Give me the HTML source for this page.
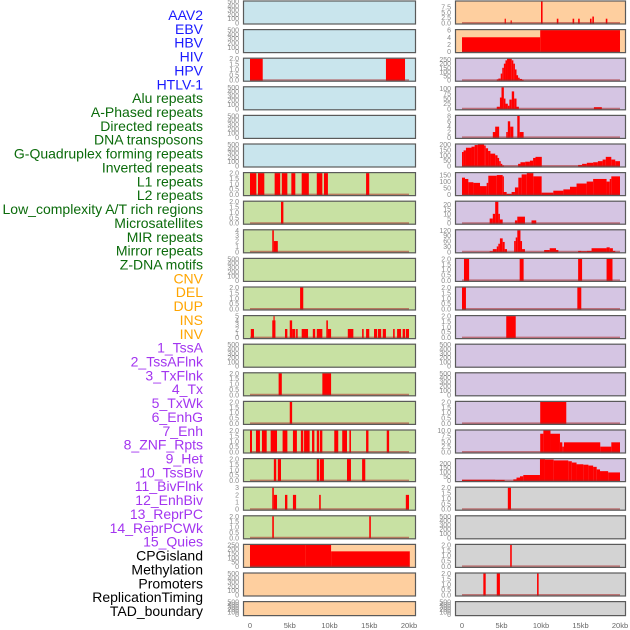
<!DOCTYPE html>
<html><head><meta charset="utf-8"><style>
html,body{margin:0;padding:0;background:#fff;}
svg{display:block;font-family:"Liberation Sans",sans-serif;}
</style></head><body>
<svg id="chart" width="630" height="630" viewBox="0 0 630 630"></svg>
<script>
const trackNames = ["AAV2","EBV","HBV","HIV","HPV","HTLV-1","Alu repeats","A-Phased repeats","Directed repeats","DNA transposons","G-Quadruplex forming repeats","Inverted repeats","L1 repeats","L2 repeats","Low_complexity A/T rich regions","Microsatellites","MIR repeats","Mirror repeats","Z-DNA motifs","CNV","DEL","DUP","INS","INV","1_TssA","2_TssAFlnk","3_TxFlnk","4_Tx","5_TxWk","6_EnhG","7_Enh","8_ZNF_Rpts","9_Het","10_TssBiv","11_BivFlnk","12_EnhBiv","13_ReprPC","14_ReprPCWk","15_Quies","CPGisland","Methylation","Promoters","ReplicationTiming","TAD_boundary"];
const trackGroups = ["virus","virus","virus","virus","virus","virus","repeat","repeat","repeat","repeat","repeat","repeat","repeat","repeat","repeat","repeat","repeat","repeat","repeat","sv","sv","sv","sv","sv","chrom","chrom","chrom","chrom","chrom","chrom","chrom","chrom","chrom","chrom","chrom","chrom","chrom","chrom","chrom","other","other","other","other","other"];

const ticksEmpty = ["0","100","200","300","400","500"];
const ticks2 = ["0.0","0.5","1.0","1.5","2.0"];

// bar data: [startKb, endKb, value]
const barsAAV2 = [];
const barsEBV = [];
const barsHBV = [[0,1.6,2],[17.1,19.5,2]];
const barsHIV = [];
const barsHPV = [];
const barsHTLV = [];
const barsAlu = [[0,0.8,2],[1.0,1.8,2],[3.1,3.8,2],[4.0,4.7,2],[5.2,5.7,2],[6.5,7.4,2],[8.4,9.1,2],[9.3,9.8,2],[14.6,15.0,2]];
const barsAPhased = [[3.9,4.2,2]];
const barsDirected = [[2.8,3.0,4],[3.0,3.5,2]];
const barsDNATrans = [];
const barsGQuad = [[6.3,6.7,2]];
const barsInverted = [[0.1,0.5,2],[2.8,3.2,4],[2.95,3.05,5],[4.4,4.7,2],[5.0,5.3,4],[5.3,5.7,2],[5.8,6.0,2],[6.5,7.3,2],[7.9,8.2,2],[8.4,9.1,2],[9.6,9.8,4],[9.8,10.2,2],[12.3,13.0,2],[14.1,14.3,2],[14.6,15.0,2],[15.6,16.0,2],[16.1,16.5,2],[16.7,17.1,2],[18.0,18.2,2],[18.5,19.0,2],[19.2,19.5,2],[19.6,20.0,2]];
const barsL1 = [];
const barsL2 = [[3.6,4.0,2],[9.1,10.2,2]];
const barsLowComp = [[5.0,5.3,2]];
const barsMicrosat = [[0,0.25,2],[0.75,1.25,2],[1.5,2.1,2],[2.6,3.4,2],[4.1,4.7,2],[5.4,5.9,2],[6.4,6.7,2],[6.8,7.5,2],[7.8,8.1,2],[8.4,8.7,2],[8.8,9.1,2],[10.6,11.1,2],[11.6,12.2,2],[12.5,12.7,2],[14.6,14.9,2],[17.2,17.5,2]];
const barsMIR = [[3.0,3.3,2],[3.5,3.9,2],[8.4,8.7,2],[8.8,9.3,2],[12.2,12.7,2],[14.1,14.5,2]];
const barsMirror = [[2.8,3.0,3],[3.0,3.4,2],[4.4,4.7,2],[5.4,5.8,2],[8.7,8.9,2],[19.6,20.0,2]];
const barsZDNA = [[2.8,3.0,2],[15.0,15.2,2]];
const barsCNV = [[0,7.0,250],[7.0,10.2,250],[10.2,20.1,175]];
const barsDEL = [];
const barsDUP = [];
const barsINS = [[5.4,5.5,2],[6.15,6.25,1.2],[10.0,10.2,10],[12.0,12.2,2],[14.0,14.2,2],[14.7,14.9,2],[16.2,16.4,2],[16.5,16.7,3],[18.2,18.4,2]];
const barsINV = [[0,9.9,4],[9.9,20.0,6]];
const barsTssA = [[4.4,4.6,10],[4.6,4.9,20],[4.9,5.1,80],[5.1,5.3,150],[5.3,5.5,200],[5.5,5.7,240],[5.7,6.3,260],[6.3,6.5,240],[6.5,6.7,200],[6.7,6.9,130],[6.9,7.1,60],[7.1,7.3,30],[7.3,7.6,15],[7.6,7.8,5]];
const barsTssAFlnk = [[4.4,4.8,10],[4.8,5.0,55],[5.0,5.3,105],[5.3,5.5,50],[5.5,5.8,25],[5.8,6.0,15],[6.0,6.3,45],[6.3,6.6,85],[6.6,6.9,50],[6.9,7.2,10],[16.7,17.7,8]];
const barsTxFlnk = [[3.9,4.3,2],[4.2,4.7,4],[5.6,5.8,2],[5.8,6.1,6],[6.1,6.5,4],[7.0,7.3,8],[7.3,7.8,2]];
const barsTx = [[0,0.2,130],[0.2,0.5,145],[0.5,1.2,170],[1.2,1.6,180],[1.6,2.0,195],[2.0,2.8,200],[2.8,3.0,190],[3.0,3.3,165],[3.3,3.6,140],[3.6,4.2,115],[4.2,4.5,100],[4.5,4.7,75],[4.7,4.9,45],[4.9,5.1,20],[5.1,5.3,5],[7.1,7.4,20],[7.4,8.0,35],[8.0,8.6,40],[8.6,9.0,50],[9.0,9.3,75],[9.3,10.1,85],[14.7,15.2,10],[15.2,15.8,20],[15.8,16.6,30],[16.6,17.2,35],[17.2,17.8,45],[17.8,18.2,60],[18.2,18.9,85],[18.9,19.4,60],[19.4,20.0,45]];
const barsTxWk = [[0,0.38,130],[0.38,0.8,120],[0.8,1.44,95],[1.44,2.28,90],[2.28,3.12,65],[3.12,3.33,90],[3.33,4.4,145],[4.4,5.15,150],[5.15,5.23,140],[5.23,5.65,20],[5.65,6.28,5],[6.28,6.7,20],[6.7,7.13,55],[7.13,7.55,130],[7.55,8.2,155],[8.2,9.03,165],[9.03,10.08,140],[10.08,11.56,15],[11.56,12.83,30],[12.83,13.67,40],[13.67,14.5,60],[14.5,15.78,85],[15.78,16.6,100],[16.6,18.3,120],[18.3,18.7,100],[18.7,18.9,120],[18.9,20.0,140]];
const barsEnhG = [[3.5,3.9,5],[3.9,4.2,10],[4.2,4.6,23],[4.6,4.8,10],[4.8,5.15,4],[6.7,7.0,3],[7.0,7.97,7],[8.8,9.4,3]];
const barsEnh = [[3.5,3.9,3],[3.9,4.4,15],[4.4,4.6,30],[4.6,4.8,45],[4.8,5.15,75],[5.15,5.4,55],[5.4,5.7,15],[6.6,6.8,60],[6.8,7.0,80],[7.0,7.4,120],[7.4,7.6,60],[7.6,7.97,15],[10.4,11.1,10],[11.1,11.9,20],[11.9,12.2,10],[14.7,15.1,5],[15.1,15.8,3],[15.8,16.4,5],[16.4,18.3,20],[18.3,18.7,25],[18.7,19.1,20],[19.1,19.4,5]];
const barsZNF = [[0.25,0.9,2],[7.3,7.8,2],[14.7,15.2,2],[18.3,19.05,2]];
const barsHet = [[0,0.5,2],[14.6,15.1,2]];
const barsTssBiv = [[5.6,6.8,2]];
const barsBivFlnk = [];
const barsEnhBiv = [];
const barsReprPC = [[9.9,13.2,2]];
const barsReprPCWk = [[9.9,10.3,8.5],[10.3,11.2,10],[11.2,12.4,8.5],[12.4,12.7,4.5],[12.7,12.9,2.5],[12.9,17.5,4.5],[17.5,18.9,2.5],[18.9,20.0,4.5]];
const barsQuies = [[0,4.2,10],[4.2,5.4,8],[6.5,6.9,15],[6.9,7.34,35],[7.34,7.76,50],[7.76,9.87,65],[9.87,10.5,250],[10.5,11.6,245],[11.6,13.46,235],[13.46,13.9,225],[13.9,14.5,210],[14.5,15.36,190],[15.36,16.0,185],[16.0,16.6,175],[16.6,17.05,160],[17.05,17.47,130],[17.47,18.5,110],[18.5,20.0,95]];
const barsCPG = [[5.8,6.2,2]];
const barsMeth = [];
const barsProm = [[6.1,6.3,2]];
const barsRepl = [[2.7,3.0,2],[4.4,4.8,2],[9.5,9.7,2]];
const barsTAD = [];

const trackBars = [barsAAV2,barsEBV,barsHBV,barsHIV,barsHPV,barsHTLV,barsAlu,barsAPhased,barsDirected,barsDNATrans,barsGQuad,barsInverted,barsL1,barsL2,barsLowComp,barsMicrosat,barsMIR,barsMirror,barsZDNA,barsCNV,barsDEL,barsDUP,barsINS,barsINV,barsTssA,barsTssAFlnk,barsTxFlnk,barsTx,barsTxWk,barsEnhG,barsEnh,barsZNF,barsHet,barsTssBiv,barsBivFlnk,barsEnhBiv,barsReprPC,barsReprPCWk,barsQuies,barsCPG,barsMeth,barsProm,barsRepl,barsTAD];

const trackTicks = [ticksEmpty,ticksEmpty,ticks2,ticksEmpty,ticksEmpty,ticksEmpty,ticks2,ticks2,["0","1","2","3","4"],ticksEmpty,ticks2,["0","1","2","3","4","5"],ticksEmpty,ticks2,ticks2,ticks2,ticks2,["0","1","2","3"],ticks2,["0","50","100","150","200","250"],ticksEmpty,ticksEmpty,
["0.0","2.5","5.0","7.5"],["0","2","4","6"],["0","50","100","150","200","250"],["0","25","50","75","100"],["0","2","4","6","8"],["0","50","100","150","200"],["0","50","100","150"],["0","5","10","15","20"],["0","30","60","90","120"],ticks2,ticks2,ticks2,ticksEmpty,ticksEmpty,ticks2,["0.0","2.5","5.0","7.5","10.0"],["0","50","100","150","200"],ticks2,ticksEmpty,ticks2,ticks2,ticksEmpty];

const xTickValues = [0,5,10,15,20];
const xTickLabels = ["0","5kb","10kb","15kb","20kb"];

const labelColors = {virus:"#1a1aff",repeat:"#0b6b0b",sv:"#ffa500",chrom:"#a335f0",other:"#000000"};
const panelFills = ["#c9e5ed","#c8e1a3","#fecf9f","#d5c5e3","#d3d3d3"];
const groupFill = {virus:0,repeat:1,sv:2,chrom:3,other:4};

const NS = "http://www.w3.org/2000/svg";
const svg = document.getElementById("chart");
function mk(tag, attrs, parent){
  const e = document.createElementNS(NS, tag);
  for (const k in attrs) e.setAttribute(k, attrs[k]);
  (parent||svg).appendChild(e);
  return e;
}

// labels
trackNames.forEach((n,i)=>{
  const t = mk("text",{x:203,y:(15+i*13.86+5).toFixed(1),"text-anchor":"end","font-size":"14",fill:labelColors[trackGroups[i]]});
  
  
  t.textContent = n;
});

const cols = [{px:243,pw:173,x0:250,sc:7.95},{px:455,pw:171,x0:462,sc:7.9}];
function xScale(col,kb){ return col.x0 + kb*col.sc; }

trackNames.forEach((n,i)=>{
  const col = cols[i<22?0:1];
  const row = i%22;
  const top = 0.5 + row*28.6;
  const h = row===21 ? 15 : 24;
  const bars = trackBars[i];
  const ticks = trackTicks[i];
  const tickMax = parseFloat(ticks[ticks.length-1]);
  let ymax = tickMax;
  bars.forEach(b=>{ if(b[2]>ymax) ymax=b[2]; });
  const yScale = v => top + h - 1.5 - v/ymax*(h-2.5);
  const g = mk("g",{});
  
  
  const bg = mk("rect",{x:col.px,y:top,width:col.pw,height:h,fill:panelFills[groupFill[trackGroups[i]]]},g);
  
  
  bars.forEach(b=>{
    const x1 = xScale(col,b[0]), x2 = xScale(col,b[1]);
    const y = yScale(b[2]);
    const r = mk("rect",{x:x1.toFixed(2),y:y.toFixed(2),width:Math.max(1.2,x2-x1).toFixed(2),height:(yScale(0)-y+0.5).toFixed(2),fill:"#ff0000"},g);
    
    
  });
  if (bars.length){
    const bl = mk("line",{x1:xScale(col,0),x2:xScale(col,20),y1:yScale(0),y2:yScale(0),stroke:"rgba(170,40,40,0.55)","stroke-width":2},g);
    
    
  }
  const br = mk("rect",{x:col.px+0.5,y:top+0.5,width:col.pw-1,height:h-1,fill:"none",stroke:"#5a5a5a","stroke-width":1.2},g);
  
  
  ticks.forEach(tk=>{
    const v = parseFloat(tk);
    const t = mk("text",{x:col.px-4,y:(yScale(v)+2.5).toFixed(1),"text-anchor":"end","font-size":"7",fill:"#8a8a8a"},g);
    
    
    t.textContent = tk;
  });
});

cols.forEach(col=>{
  xTickValues.forEach((v,j)=>{
    const t = mk("text",{x:xScale(col,v).toFixed(1),y:628,"text-anchor":"middle","font-size":"7.5",fill:"#666"});
    
    
    t.textContent = xTickLabels[j];
  });
});
</script>
</body></html>
